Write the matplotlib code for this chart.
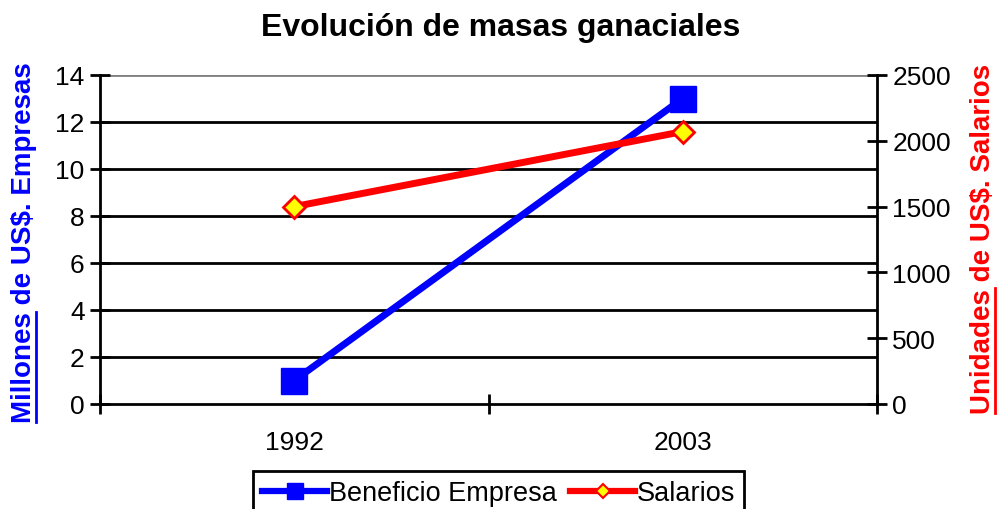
import matplotlib
matplotlib.use("Agg")
import matplotlib.pyplot as plt
from matplotlib.lines import Line2D
import numpy as np

plt.rcParams['font.family'] = ['Liberation Sans', 'DejaVu Sans']

years = ["1992", "2003"]
beneficio = [1, 13]
salarios = [1500, 2070]
left_ticks = [0, 2, 4, 6, 8, 10, 12, 14]
right_ticks = [0, 500, 1000, 1500, 2000, 2500]

fig = plt.figure(figsize=(9.97, 5.10), dpi=100)
ax = fig.add_axes([100/997, 1-405/510, 777/997, 329/510])
ax2 = ax.twinx()

x = np.arange(len(years))
ax.set_xlim(-0.5, len(years) - 0.5)
ax.set_ylim(0, 14)
ax2.set_ylim(0, 2500)

for t in left_ticks[1:]:
    ax.axhline(t, color='#808080' if t == 14 else 'black', lw=2, zorder=1)

l1, = ax.plot(x, beneficio, color='#0000FF', lw=5, marker='s', ms=19,
              markerfacecolor='#0000FF', markeredgecolor='#0000FF', zorder=3,
              label='Beneficio Empresa', clip_on=False)
l2, = ax2.plot(x, salarios, color='#FF0000', lw=5, marker='D', ms=11,
               markerfacecolor='#FFFF00', markeredgecolor='#FF0000', mew=2,
               zorder=3, label='Salarios', clip_on=False)
ax.set_zorder(ax2.get_zorder() - 1)
ax2.patch.set_visible(False)
ax.spines['top'].set_visible(False)
ax2.spines['top'].set_visible(False)
ax.spines['left'].set_linewidth(2)
ax.spines['bottom'].set_linewidth(2)
ax2.spines['right'].set_linewidth(2)
ax2.spines['left'].set_visible(False)
ax2.spines['bottom'].set_visible(False)
ax.spines['right'].set_visible(False)

ax.set_yticks(left_ticks)
ax.set_yticklabels([str(t) for t in left_ticks])
ax2.set_yticks(right_ticks)
ax2.set_yticklabels([str(t) for t in right_ticks])
ax.tick_params(axis='y', direction='inout', length=14, width=2, labelsize=19, pad=4)
ax2.tick_params(axis='y', direction='inout', length=14, width=2, labelsize=19, pad=4)

ax.set_xticks([-0.5, 0.5, 1.5])
ax.set_xticklabels(['', '', ''])
ax.set_xticks(x, minor=True)
ax.set_xticklabels(years, minor=True)
ax.tick_params(axis='x', which='major', direction='inout', length=14, width=2)
ax.tick_params(axis='x', which='minor', length=0, labelsize=19, pad=19)

fig.text(0.502, 1-28/510, 'Evolución de masas ganaciales', ha='center', va='center',
         fontsize=23, fontweight='bold')

def vlabel(xc, yc, full, first, color):
    t = fig.text(xc, yc, full, rotation=90, ha='center', va='center',
                 fontsize=20, fontweight='bold', color=color)
    fig.canvas.draw()
    r = fig.canvas.get_renderer()
    bb = t.get_window_extent(r)
    tmp = fig.text(0, 0, first, rotation=90, fontsize=20, fontweight='bold')
    bb2 = tmp.get_window_extent(r)
    tmp.remove()
    W, H = fig.bbox.width, fig.bbox.height
    ux = (bb.x1 - 1) / W
    fig.add_artist(Line2D([ux, ux], [bb.y0 / H, (bb.y0 + bb2.height) / H],
                          transform=fig.transFigure, color=color, lw=2))

vlabel(24/997, 1-243/510, 'Millones de US$. Empresas', 'Millones', '#0000FF')
vlabel(983/997, 1-239/510, 'Unidades de US$. Salarios', 'Unidades', '#FF0000')

h1 = Line2D([], [], color='#0000FF', lw=4.5, marker='s', ms=11,
            markerfacecolor='#0000FF', markeredgecolor='#0000FF')
h2 = Line2D([], [], color='#FF0000', lw=4.5, marker='D', ms=7,
            markerfacecolor='#FFFF00', markeredgecolor='#FF0000', mew=1.5)
leg = fig.legend(handles=[h1, h2], labels=['Beneficio Empresa', 'Salarios'],
                 loc='upper center', bbox_to_anchor=(0.5, 1-472/510),
                 ncol=2, fontsize=19.5, frameon=True, fancybox=False, edgecolor='black',
                 framealpha=1, handlelength=2.4, handletextpad=0.05, columnspacing=0.5,
                 borderpad=0.35, borderaxespad=0)
leg.get_frame().set_linewidth(2)

fig.savefig('out.png', dpi=100)
